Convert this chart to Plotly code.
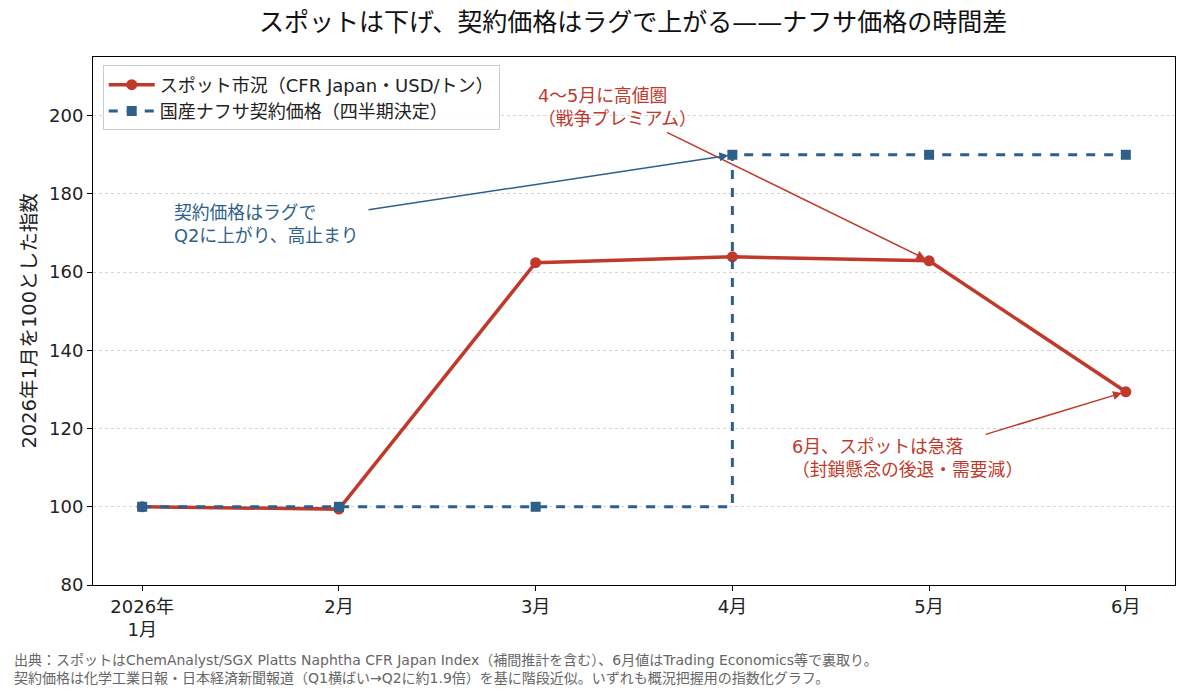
import plotly.graph_objects as go

months = ["2026年<br>1月", "2月", "3月", "4月", "5月", "6月"]
spot = [100.0, 99.4, 162.4, 163.9, 162.9, 129.4]
contract = [100, 100, 100, 190, 190, 190]
yticks = [80, 100, 120, 140, 160, 180, 200]

RED = "#c0392b"
BLUE = "#2e5f8a"
FONT = "DejaVu Sans, Noto Sans CJK JP"

x = list(range(len(months)))

fig = go.Figure()
fig.add_trace(go.Scatter(
    x=x, y=spot, mode="lines+markers", name="スポット市況（CFR Japan・USD/トン）",
    line=dict(color=RED, width=3.5), marker=dict(symbol="circle", size=11, color=RED),
))
fig.add_trace(go.Scatter(
    x=x, y=contract, mode="lines+markers", name="国産ナフサ契約価格（四半期決定）",
    line=dict(color=BLUE, width=3, dash="dash", shape="hv"),
    marker=dict(symbol="square", size=10, color=BLUE),
))


def arrow(xh, yh, xt, yt, color):
    fig.add_annotation(x=xh, y=yh, ax=xt, ay=yt, xref="x", yref="y", axref="x", ayref="y",
                       text="", showarrow=True, arrowhead=2, arrowsize=1.2, arrowwidth=1.5,
                       arrowcolor=color, standoff=4)


def label(xl, yl, text, color):
    fig.add_annotation(x=xl, y=yl, xref="x", yref="y", xanchor="left", yanchor="middle",
                       text=text, showarrow=False, align="left",
                       font=dict(color=color, size=17.8, family=FONT))


arrow(4, spot[4], 2.66, 195.9, RED)
label(2.0, 202.3, "4〜5月に高値圏<br>（戦争プレミアム）", RED)

arrow(3, contract[3], 1.143, 175.9, BLUE)
label(0.152, 172.4, "契約価格はラグで<br>Q2に上がり、高止まり", BLUE)

arrow(5, spot[5], 4.28, 118.4, RED)
label(3.293, 112.5, "6月、スポットは急落<br>（封鎖懸念の後退・需要減）", RED)

fig.add_annotation(
    x=-0.075, y=-0.196, xref="paper", yref="paper", xanchor="left", yanchor="bottom",
    text="出典：スポットはChemAnalyst/SGX Platts Naphtha CFR Japan Index（補間推計を含む）、6月値はTrading Economics等で裏取り。<br>"
         "契約価格は化学工業日報・日本経済新聞報道（Q1横ばい→Q2に約1.9倍）を基に階段近似。いずれも概況把握用の指数化グラフ。",
    showarrow=False, align="left", font=dict(color="#666666", size=14, family=FONT),
)

fig.update_layout(
    width=1188, height=698,
    margin=dict(l=93, r=13, t=57, b=113),
    paper_bgcolor="white", plot_bgcolor="white",
    font=dict(family=FONT, size=18, color="#222222"),
    title=dict(text="スポットは下げ、契約価格はラグで上がる——ナフサ価格の時間差",
               x=0.533, xanchor="center", y=0.968, yanchor="middle",
               font=dict(size=25, color="#111111", family=FONT)),
    showlegend=True,
    legend=dict(x=0.009, y=0.984, xanchor="left", yanchor="top",
                bgcolor="rgba(255,255,255,0.9)", bordercolor="#cccccc", borderwidth=1,
                font=dict(size=18, color="#222222"), itemwidth=46, tracegroupgap=0),
)
fig.update_xaxes(
    range=[-0.25, 5.25], tickmode="array", tickvals=x, ticktext=months,
    showgrid=False, zeroline=False, showline=True, linecolor="black", linewidth=1, mirror=True,
    ticks="outside", ticklen=5, tickcolor="black", tickfont=dict(size=18, color="#222222"),
)
fig.update_yaxes(
    range=[80, 215], tickmode="array", tickvals=yticks,
    showgrid=True, gridcolor="#d5d5d5", griddash="dot", gridwidth=1, zeroline=False,
    showline=True, linecolor="black", linewidth=1, mirror=True,
    ticks="outside", ticklen=5, tickcolor="black", tickfont=dict(size=18, color="#222222"),
    title=dict(text="2026年1月を100とした指数", font=dict(size=19.5, color="#222222"), standoff=7),
)

fig.write_html("out.html")
